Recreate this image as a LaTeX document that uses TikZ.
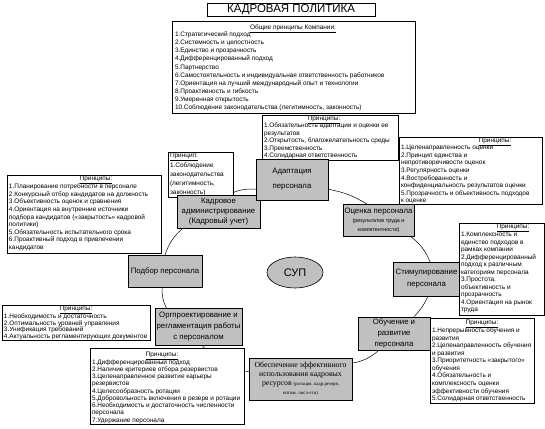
\documentclass[tikz,border=0pt]{standalone}
\usepackage{fontspec}
\setmainfont{Liberation Sans}
\newfontfamily\serifrus{Liberation Serif}
\usetikzlibrary{backgrounds,shapes.geometric}
\definecolor{unitgray}{HTML}{C0C0C0}
\newcommand{\pfs}[1]{\fontsize{6.45}{#1}\selectfont}
\newcommand{\nfs}[1]{\fontsize{7.8}{#1}\selectfont}
\tikzset{
  box/.style={draw, line width=0.6pt, fill=white, inner sep=0pt, outer sep=0pt, anchor=north west},
  unit/.style={draw, line width=0.6pt, fill=unitgray, inner sep=0.5pt, outer sep=0pt, anchor=north west, align=center},
  body/.style={inner sep=0pt, outer sep=0pt, anchor=north west, align=left},
  head/.style={inner sep=0pt, outer sep=0pt, anchor=north, font=\pfs{7.5}},
  ring/.style={line width=0.5pt},
}
\begin{document}
\begin{tikzpicture}[x=1pt,y=-1pt]
\useasboundingbox (0,0) rectangle (545,428);

% title
\node[box, minimum width=168, minimum height=13, font=\fontsize{11.5}{12}\selectfont] (title) at (207,3) {КАДРОВАЯ ПОЛИТИКА};

% general principles
\node[box, minimum width=243, minimum height=92] (gen) at (172,21) {};
\node[head] (genh) at (293,24.4) {\underline{Общие принципы Компании:}};
\node[body, font=\pfs{8.1}] (genb) at (175,31.9) {1.Стратегический подход\\2.Системность и целостность\\3.Единство и прозрачность\\4.Дифференцированный подход\\5.Партнерство\\6.Самостоятельность и индивидуальная ответственность работников\\7.Ориентация на лучший международный опыт и технологии\\8.Проактивность и гибкость\\9.Умеренная открытость\\10.Соблюдение законодательства (легитимность, законность)};

% adaptation principles
\node[box, minimum width=136, minimum height=45] (adp) at (262,115) {};
\node[head] (adph) at (324,115.9) {\underline{Принципы:}};
\node[body, font=\pfs{7.5}] (adpb) at (264,122.9) {1.Обязательность адаптации и оценки ее\\результатов\\2.Открытость, благожелательность среды\\3.Преемственность\\4.Солидарная ответственность};

% single principle
\node[box, minimum width=65, minimum height=45] (p1) at (168,152) {};
\node[body, font=\pfs{9.2}] (p1b) at (170,153.4) {\underline{Принцип:}\\1.Соблюдение\\законодательства\\(легитимность,\\законность)};

% units top
\node[unit, minimum width=83, minimum height=33, font=\nfs{10}] (kadr) at (177,195) {Кадровое\\администрирование\\(Кадровый учет)};
\node[unit, minimum width=72, minimum height=41, font=\nfs{15}] (adapt) at (256,159) {Адаптация\\персонала};

% assessment principles
\node[box, minimum width=143, minimum height=67] (ocp) at (399,137) {};
\node[head] (ocph) at (495,137.9) {\underline{Принципы:}};
\node[body, font=\pfs{7.55}] (ocpb) at (401,145.4) {1.Целенаправленность оценки\\2.Принцип единства и\\непротиворечивости оценок\\3.Регулярность оценки\\4.Востребованность и\\конфиденциальность результатов оценки\\5.Прозрачность и объективность подходов\\к оценке};
\node[unit, minimum width=71, minimum height=32, font=\nfs{9}] (ocen) at (343,204) {Оценка персонала\\\fontsize{5.4}{8}\selectfont(результатов труда и\\\fontsize{5.4}{8}\selectfont компетентности)};

% stimulation
\node[unit, minimum width=67, minimum height=34, font=\nfs{12}] (stim) at (393,262) {Стимулирование\\персонала};
\node[box, minimum width=85, minimum height=92] (stp) at (459,223) {};
\node[head] (stph) at (513,223.9) {\underline{Принципы:}};
\node[body, font=\pfs{7.5}] (stpb) at (461,232.4) {1.Комплексность и\\единство подходов в\\рамках компании\\2.Дифференцированный\\подход к различным\\категориям персонала\\3.Простота,\\объективность и\\прозрачность\\4.Ориентация на рынок\\труда};

% training
\node[unit, minimum width=72, minimum height=33, font=\nfs{11}] (obuch) at (358,317) {Обучение и\\развитие\\персонала};
\node[box, minimum width=104, minimum height=85] (obp) at (430,318) {};
\node[head] (obph) at (482,320.4) {\underline{Принципы:}};
\node[body, font=\pfs{7.55}] (obpb) at (432,327.9) {1.Непрерывность обучения и\\развития\\2.Целенаправленность обучения\\и развития\\3.Приоритетность «закрытого»\\обучения\\4.Обязательность и\\комплексность оценки\\эффективности обучения\\5.Солидарная ответственность};

% effective use
\node[unit, minimum width=103, minimum height=42, font=\serifrus\fontsize{7.8}{9}\selectfont] (obes) at (249,358) {Обеспечение эффективного\\использования кадровых\\ресурсов {\fontsize{4.8}{9}\selectfont (ротация, кадр.резерв,}\\{\fontsize{4.8}{9}\selectfont оптим. числ-сти)}};

% reserve principles
\node[box, minimum width=154, minimum height=76] (rzp) at (90,348) {};
\node[head] (rzph) at (162,351.9) {\underline{Принципы:}};
\node[body, font=\pfs{7.25}] (rzpb) at (92,359.4) {1.Дифференцированный подход\\2.Наличие критериев отбора резервистов\\3.Целенаправленное развитие карьеры\\резервистов\\4.Целесообразность ротации\\5.Добровольность включения в резерв и ротации\\6.Необходимость и достаточность численности\\персонала\\7.Удержание персонала};

% regulation
\node[unit, minimum width=87, minimum height=37, font=\nfs{11}] (regl) at (155,308) {Оргпроектирование и\\регламентация работы\\с персоналом};
\node[box, minimum width=148, minimum height=35] (rgp) at (2,305) {};
\node[head] (rgph) at (76,306.4) {\underline{Принципы:}};
\node[body, font=\pfs{6.6}] (rgpb) at (4,313.9) {1.Необходимость и достаточность\\2.Оптимальность уровней управления\\3.Унификация требований\\4.Актуальность регламентирующих документов};

% recruitment
\node[unit, minimum width=74, minimum height=32, font=\nfs{10}] (podb) at (128,255) {Подбор персонала};
\node[box, minimum width=154, minimum height=78] (pdp) at (7,175) {};
\node[head] (pdph) at (96,175.9) {\underline{Принципы:}};
\node[body, font=\pfs{7.6}] (pdpb) at (9,183.9) {1.Планирование потребности в персонале\\2.Конкурсный отбор кандидатов на должность\\3.Объективность оценок и сравнения\\4.Ориентация на внутренние источники\\подбора кандидатов («закрытость» кадровой\\политики)\\5.Обязательность испытательного срока\\6.Проактивный подход в привлечении\\кандидатов};

% centre
\node[ellipse, draw, line width=0.6pt, fill=unitgray, minimum width=56, minimum height=31, inner sep=0pt, font=\fontsize{11}{12}\selectfont] (sup) at (295,272.5) {СУП};

\begin{pgfonlayer}{background}
\fill[white] (0,0) rectangle (545,428);
\draw[ring] (kadr.60) to[bend left=15] (adapt.195);
\draw[ring] (adapt.-15) to[bend left=10] (ocen.126);
\draw[ring] (ocen.-27) to[bend left=15] (stim.78);
\draw[ring] (stim.-85) to[bend left=10] (obuch.40);
\draw[ring] (obuch.-132) to[bend left=15] (obes.17);
\draw[ring] (obes.172) to[bend left=20] (regl.-80);
\draw[ring] (regl.150) to[bend left=15] (podb.-100);
\draw[ring] (podb.north) to[bend left=15] (kadr.205);
\end{pgfonlayer}
\end{tikzpicture}
\end{document}
